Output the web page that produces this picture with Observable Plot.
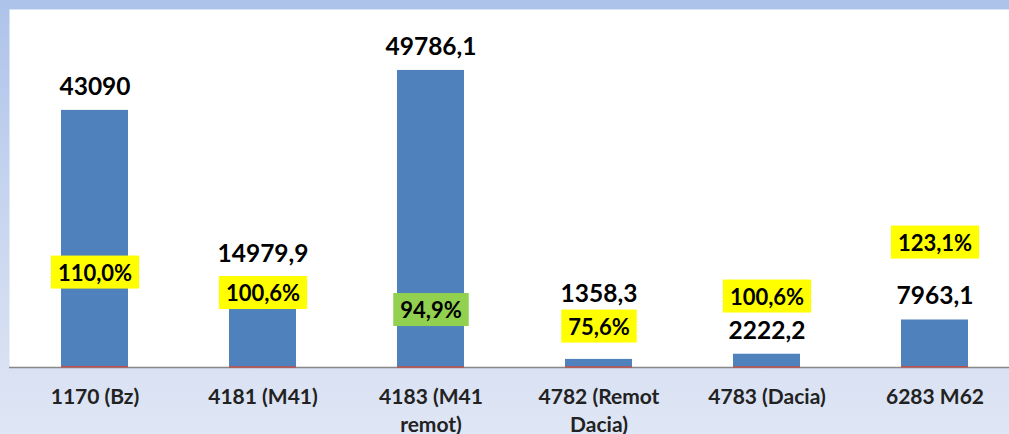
<!DOCTYPE html>
<html>
<head>
<meta charset="utf-8">
<script src="https://cdn.jsdelivr.net/npm/d3@7"></script>
<script src="https://cdn.jsdelivr.net/npm/@observablehq/plot@0.6"></script>
<style>
  html, body { margin: 0; padding: 0; background: #fff; }
  #chart { width: 1009px; height: 434px; overflow: hidden;
    background: linear-gradient(#AEC3EA 0%, #C3D2EE 40%, #D7E0F2 80%, #DFE6F5 100%); }
  #chart svg { display: block; }
</style>
</head>
<body>
<div id="chart"></div>
<script>
// Categories and series
const categories = ["1170 (Bz)", "4181 (M41)", "4183 (M41 remot)", "4782 (Remot Dacia)", "4783 (Dacia)", "6283 M62"];
const values = [43090, 14979.9, 49786.1, 1358.3, 2222.2, 7963.1];
const percents = [110.0, 100.6, 94.9, 75.6, 100.6, 123.1];
// Label anchors (in value units of the y axis), as placed in the original chart
const valueLabelAt = [43090, 14979.9, 49786.1, 8380, 2222.2, 7963.1];
const percentLabelAt = [15750, 12320, 9470, 6700, 11730, 20780];

const data = categories.map((c, i) => ({
  cat: c, value: values[i], pct: percents[i],
  valueAt: valueLabelAt[i], pctAt: percentLabelAt[i]
}));

const boxFill = ["#FFFF00", "#FFFF00", "#92D050", "#FFFF00", "#FFFF00", "#FFFF00"];

const fmtValue = d => String(d.value).replace(".", ",");
const fmtPct = d => d.pct.toFixed(1).replace(".", ",") + "%";

const chart = Plot.plot({
  width: 1009,
  height: 434,
  marginTop: 9,
  marginBottom: 67,
  marginLeft: 9,
  marginRight: 0,
  style: { fontFamily: "Lato, 'Open Sans', sans-serif", background: "transparent", overflow: "hidden" },
  x: { domain: categories, range: [10, 1020], paddingInner: 0.6, paddingOuter: 0.3, axis: null },
  y: { domain: [0, 60000], axis: null },
  marks: [
    Plot.frame({ fill: "white", stroke: "none" }),
    Plot.barY(data, { x: "cat", y: "value", fill: "#4F81BD" }),
    Plot.ruleY([0], { stroke: "#888888", strokeWidth: 1.5 }),
    Plot.tickY(data, { x: "cat", y: "pct", stroke: "#C0504D", strokeWidth: 1.5 }),
    Plot.text(data, { x: "cat", y: "valueAt", text: fmtValue, dy: -23.5, lineAnchor: "middle",
      fontSize: 24.5, fontWeight: "bold", fill: "#000" }),
    Plot.text(data, { x: "cat", y: "pctAt", text: fmtPct, lineAnchor: "middle",
      fontSize: 22, fontWeight: "bold", fill: "#000" }),
    Plot.text(categories, { x: d => d, frameAnchor: "bottom", lineAnchor: "top", dy: 17,
      lineWidth: 6.5, lineHeight: 1.333, fontSize: 21, fontWeight: "bold", fill: "#222" })
  ]
});

document.getElementById("chart").append(chart);

// Highlight boxes behind the percentage labels
const svgns = "http://www.w3.org/2000/svg";
const pctTexts = [...chart.querySelectorAll("text")].filter(t => t.textContent.trim().endsWith("%"));
pctTexts.forEach((t, i) => {
  const b = t.getBBox();
  const r = document.createElementNS(svgns, "rect");
  r.setAttribute("x", b.x - 7);
  r.setAttribute("y", b.y + b.height / 2 - 16.5);
  r.setAttribute("width", b.width + 14);
  r.setAttribute("height", 33);
  r.setAttribute("fill", boxFill[i % boxFill.length]);
  const tr = t.getAttribute("transform");
  if (tr) r.setAttribute("transform", tr);
  t.parentNode.insertBefore(r, t);
});
</script>
</body>
</html>
